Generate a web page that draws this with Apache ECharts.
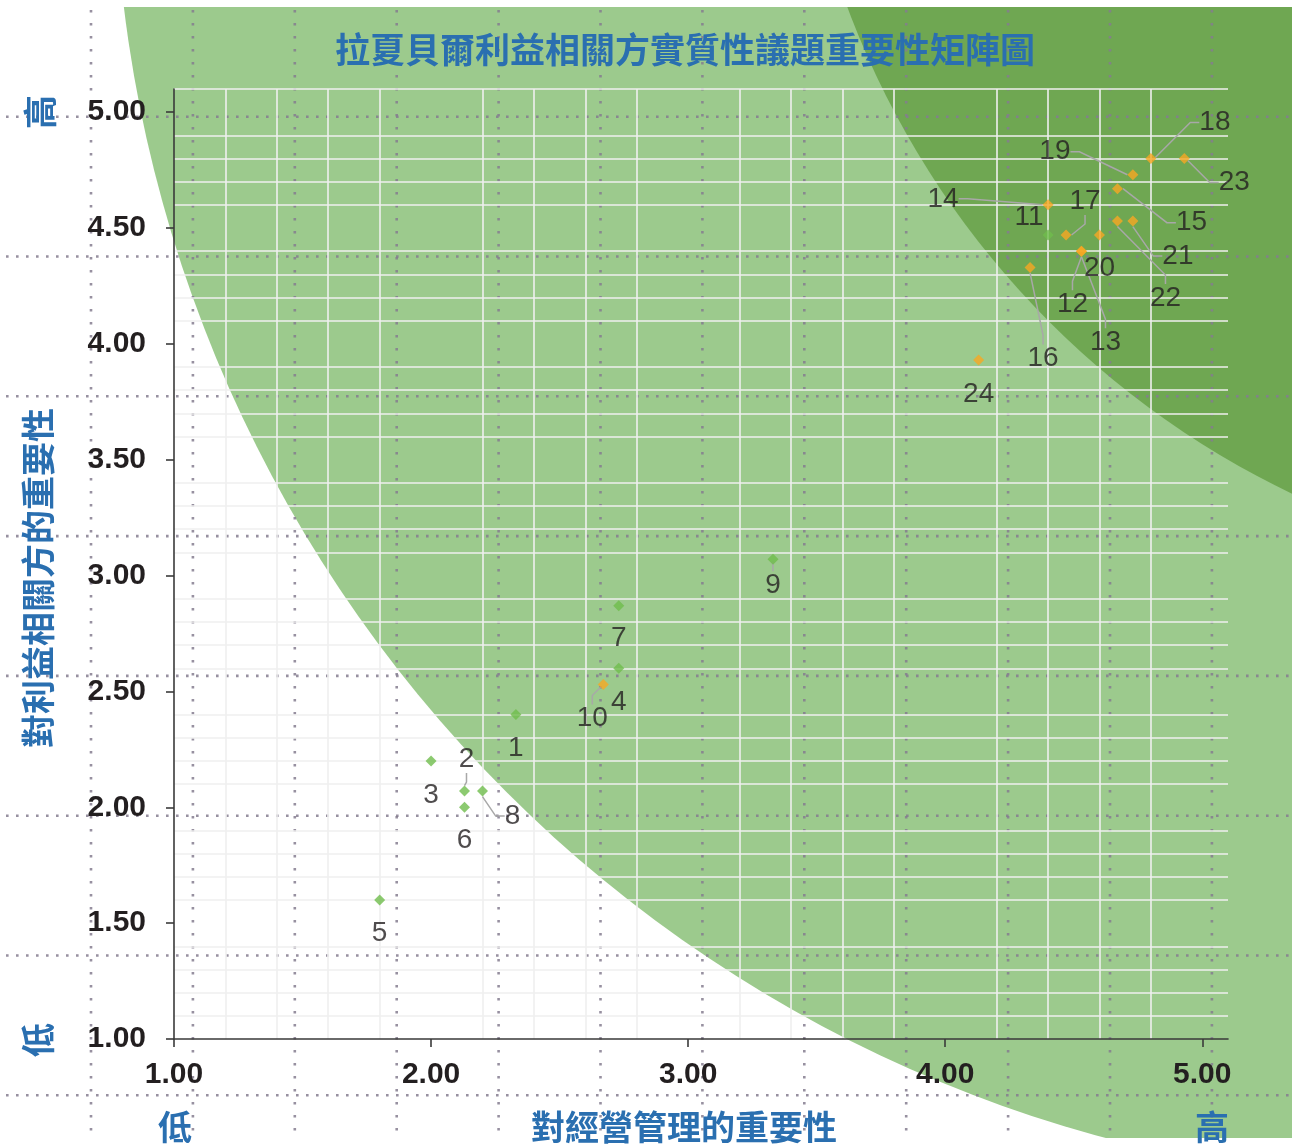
<!DOCTYPE html>
<html>
<head>
<meta charset="utf-8">
<script src="https://cdn.jsdelivr.net/npm/echarts@6/dist/echarts.min.js"></script>
<style>
html,body{margin:0;padding:0;background:#ffffff;}
#chart{width:1292px;height:1146px;}
</style>
</head>
<body>
<div id="chart"></div>
<script>
// ---------------- data ----------------
const issueIds = ['1','2','3','4','5','6','7','8','9','10','11','12','13','14','15','16','17','18','19','20','21','22','23','24'];
const businessImportance = [2.33, 2.13, 2.00, 2.73, 1.80, 2.13, 2.73, 2.20, 3.33, 2.67, 4.40, 4.53, 4.53, 4.40, 4.67, 4.33, 4.47, 4.80, 4.73, 4.60, 4.73, 4.67, 4.93, 4.13];
const stakeholderImportance = [2.40, 2.07, 2.20, 2.60, 1.60, 2.00, 2.87, 2.07, 3.07, 2.53, 4.47, 4.40, 4.40, 4.60, 4.67, 4.33, 4.47, 4.80, 4.73, 4.47, 4.53, 4.53, 4.80, 3.93];
const issueGroup = ['g','g','g','g','g','g','g','g','g','o','g','o','o','o','o','o','o','o','o','o','o','o','o','o'];
const xTickValues = [1, 2, 3, 4, 5];
const yTickValues = [1, 1.5, 2, 2.5, 3, 3.5, 4, 4.5, 5];
const axisMin = 1;
const axisMax = 5.1;
const titleText = '拉夏貝爾利益相關方實質性議題重要性矩陣圖';
const xAxisTitle = '對經營管理的重要性';
const yAxisTitle = '對利益相關方的重要性';
const lowText = '低';
const highText = '高';

// ---------------- styling ----------------
const groupColor = { g: '#6fbd4c', o: '#f7a823' };
// label offset from marker centre [dx, dy, leader line]
const labelPlacement = {
  '1': [0, 34, false], '2': [2, -32, true], '3': [0, 34, false], '4': [0, 34, false],
  '5': [0, 33, false], '6': [0, 33, false], '7': [0, 33, false], '8': [30, 25, true],
  '9': [0, 26, true], '10': [-11, 34, true], '11': [-19, -18, false], '12': [-9, 53, true],
  '13': [24, 91, true], '14': [-105, -6, true], '15': [74, 34, true], '16': [13, 91, true],
  '17': [19, -34, true], '18': [64, -36, true], '19': [-78, -23, true], '20': [0, 33, false],
  '21': [45, 35, true], '22': [48, 77, true], '23': [50, 24, true], '24': [0, 34, false]
};

const gridColor = '#efefef';

const points = issueIds.map((id, i) => {
  const p = labelPlacement[id];
  return {
    name: id,
    value: [businessImportance[i], stakeholderImportance[i]],
    itemStyle: { color: groupColor[issueGroup[i]] },
    labelLine: { show: p[2] }
  };
});

const blue = '#2a6fb0';
const cjk = '"Noto Sans CJK TC", "Noto Sans CJK SC", sans-serif';
const numFont = '"Liberation Sans", Arial, sans-serif';

const graphics = [];
// background shapes
graphics.push({ type: 'circle', z: -30, silent: true, shape: { cx: 1453, cy: -155, r: 1339 }, style: { fill: '#9cca8d' } });
graphics.push({ type: 'circle', z: -29, silent: true, shape: { cx: 1672, cy: -300, r: 880 }, style: { fill: '#6fa752' } });
graphics.push({ type: 'rect', z: -28, silent: true, shape: { x: 0, y: 0, width: 1292, height: 7 }, style: { fill: '#ffffff' } });
graphics.push({ type: 'rect', z: -28, silent: true, shape: { x: 0, y: 1138, width: 1292, height: 10 }, style: { fill: '#ffffff' } });
// decorative dotted pattern of the background
for (let k = 0; k < 12; k++) {
  const x = 91 + 101.9 * k;
  graphics.push({ type: 'line', z: -27, silent: true, shape: { x1: x, y1: 10, x2: x, y2: 1138 },
    style: { stroke: '#857d8f', lineWidth: 2.6, lineDash: [2.6, 10.4], opacity: 0.85 } });
}
for (let k = 0; k < 8; k++) {
  const y = 116.7 + 139.8 * k;
  graphics.push({ type: 'line', z: -27, silent: true, shape: { x1: 6, y1: y, x2: 1292, y2: y },
    style: { stroke: '#857d8f', lineWidth: 2.6, lineDash: [2.6, 7.4], opacity: 0.85 } });
}
// texts
function txt(t, x, y, rot) {
  return { type: 'text', z: 100, x: x, y: y, rotation: rot || 0, silent: true,
    style: { text: t, x: 0, y: 0, align: 'center', verticalAlign: 'middle', fill: blue,
      font: 'bold 34px ' + cjk } };
}
const titleEl = txt(titleText, 685, 50);
titleEl.style.font = 'bold 35px ' + cjk;
graphics.push(titleEl);
graphics.push(txt(highText, 40, 112, Math.PI / 2));
graphics.push(txt(lowText, 38, 1040, Math.PI / 2));
graphics.push(txt(yAxisTitle, 38, 578, Math.PI / 2));
graphics.push(txt(lowText, 175, 1127));
graphics.push(txt(xAxisTitle, 684, 1127));
graphics.push(txt(highText, 1212, 1127));

const chart = echarts.init(document.getElementById('chart'), null, { renderer: 'canvas' });
chart.setOption({
  backgroundColor: 'transparent',
  animation: false,
  graphic: graphics,
  grid: { left: 174, right: 64, top: 89, bottom: 107, containLabel: false, outerBoundsMode: 'none' },
  xAxis: {
    type: 'value', min: axisMin, max: axisMax, interval: 1, z: 5,
    axisLine: { show: true, onZero: false, lineStyle: { color: '#3a3a3a', width: 1.6 } },
    axisTick: { show: true, length: 8, customValues: xTickValues, lineStyle: { color: '#3a3a3a', width: 1.6 } },
    axisLabel: { customValues: xTickValues, margin: 21, color: '#231f20', fontSize: 30, fontWeight: 'bold', fontFamily: numFont,
      formatter: v => v.toFixed(2) },
    splitLine: { show: false },
    minorTick: { show: false, splitNumber: 5 },
    minorSplitLine: { show: true, lineStyle: { color: gridColor, width: 1.6 } }
  },
  yAxis: {
    type: 'value', min: axisMin, max: axisMax, interval: 0.5, z: 5,
    axisLine: { show: true, onZero: false, lineStyle: { color: '#3a3a3a', width: 1.6 } },
    axisTick: { show: true, length: 8, customValues: yTickValues, lineStyle: { color: '#3a3a3a', width: 1.6 } },
    axisLabel: { customValues: yTickValues, margin: 28, color: '#231f20', fontSize: 30, fontWeight: 'bold', fontFamily: numFont,
      formatter: v => v.toFixed(2) },
    splitLine: { show: false },
    minorTick: { show: false, splitNumber: 5 },
    minorSplitLine: { show: true, lineStyle: { color: gridColor, width: 1.6 } }
  },
  series: [{
    type: 'scatter',
    z: 10,
    symbol: 'diamond',
    symbolSize: 11,
    data: points,
    label: {
      show: true, position: 'inside', formatter: p => p.name,
      color: '#231f20', fontSize: 28, fontFamily: numFont
    },
    labelLine: { show: false, length2: 9, lineStyle: { color: '#a8a8a8', width: 1.5 } },
    labelLayout: function (params) {
      const p = labelPlacement[issueIds[params.dataIndex]];
      return { dx: p[0], dy: p[1] };
    },
    markLine: {
      silent: true, symbol: 'none', label: { show: false }, animation: false,
      lineStyle: { color: gridColor, width: 1.6, type: 'solid' },
      data: [{ yAxis: axisMax }]
    }
  }]
});
</script>
</body>
</html>
